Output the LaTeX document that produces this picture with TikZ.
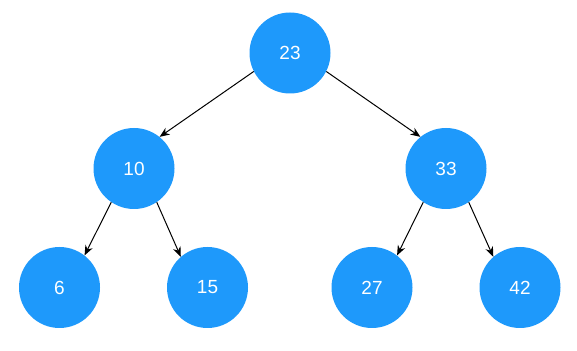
\documentclass[tikz,border=0pt]{standalone}
\usepackage{fontspec}
\setmainfont{Liberation Sans}
\usetikzlibrary{arrows.meta}
\definecolor{nodeblue}{RGB}{30,153,251}
\begin{document}
\begin{tikzpicture}[x=1pt,y=1pt,
  tnode/.style={circle,fill=nodeblue,draw=none,minimum size=81pt,inner sep=0pt,text=white,font=\fontsize{19}{21}\selectfont},
  edge/.style={draw=black,line width=1pt,-{Stealth[length=10pt,width=8pt]}}]
\useasboundingbox (0,0) rectangle (577,350);
\node[tnode] (n23) at (290,297) {23};
\node[tnode] (n10) at (134,181.5) {10};
\node[tnode] (n33) at (446,181.5) {33};
\node[tnode] (n6) at (59.5,62.5) {6};
\node[tnode] (n15) at (207.5,62.5) {15};
\node[tnode] (n27) at (372,62.5) {27};
\node[tnode] (n42) at (520,62.5) {42};
\draw[edge] (n23.207) -- (n10.51);
\draw[edge] (n23.333) -- (n33.129);
\draw[edge] (n10.236) -- (n6.52);
\draw[edge] (n10.304) -- (n15.131);
\draw[edge] (n33.236) -- (n27.52);
\draw[edge] (n33.304) -- (n42.131);
\end{tikzpicture}
\end{document}
